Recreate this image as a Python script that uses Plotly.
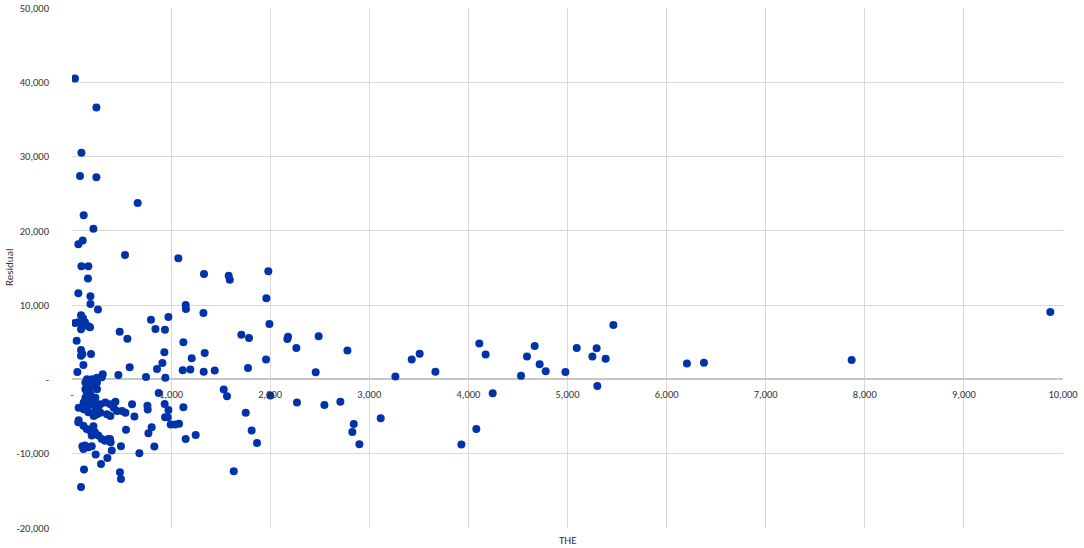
import plotly.graph_objects as go

# THE (x) and Residual (y) values
the_values = [
    30, 246, 95, 81, 246, 663, 118, 216, 108, 64,
    535, 1073, 95, 165, 161, 64, 186, 186, 262, 91,
    111, 30, 64, 98, 131, 165, 182, 91, 47, 91,
    105, 91, 192, 115, 54, 481, 559, 582, 468, 310,
    300, 252, 151, 202,
    797, 973, 842, 938, 932, 912, 858, 747, 942, 1147,
    1150, 1124, 1208, 1117, 1194, 1332, 1581, 1592, 1981, 1961,
    1326, 1992, 1709, 1786, 2180, 2173, 2489, 2264, 1339, 1958,
    1329, 1440, 1776, 2459, 2779, 3263, 3428, 3508, 3667, 4110,
    4174, 4245, 4531, 4591, 4669, 4719, 4780, 4979, 5093, 5251,
    5294, 5301, 5385, 5463, 6205, 6377, 7867, 9872,
    1531, 1564, 2002, 2270, 2547, 2708, 1753, 1813, 1867, 1632,
    2843, 2829, 3115, 2900, 3929, 4080,
    135, 169, 219, 252, 135, 186, 252, 151, 186, 135,
    169, 236, 118, 186, 219, 252, 286, 337, 387, 67,
    118, 151, 236, 269, 286, 438, 421, 454, 505, 539,
    606, 630, 353, 387, 219, 252, 67, 165,
    64, 115, 148, 182, 216, 232, 266, 300, 333, 367,
    383, 199, 131, 165, 199, 390, 105, 115, 545, 494,
    401, 357, 293, 239, 121, 91, 484, 494, 680, 831,
    804, 771, 1147, 1248, 996, 1040, 1080, 939, 966, 761,
    764, 935, 973, 1124, 875,
]

residual_values = [
    40500, 36600, 30500, 27400, 27200, 23760, 22100, 20300, 18700, 18200,
    16760, 16300, 15230, 15230, 13600, 11600, 11200, 10160, 9400, 8640,
    8240, 7600, 7700, 7240, 7700, 7160, 7030, 6750, 5220, 3970,
    3430, 3200, 3430, 1950, 1010, 6430, 5490, 1640, 600, 700,
    300, 240, 30, 30,
    8050, 8410, 6800, 6700, 3660, 2220, 1410, 340, 240, 10030,
    9490, 5010, 2850, 1240, 1320, 14200, 13970, 13430, 14560, 10930,
    8950, 7470, 6030, 5590, 5760, 5450, 5810, 4240, 3570, 2670,
    1050, 1190, 1550, 970, 3880, 380, 2670, 3470, 1050, 4820,
    3340, -1860, 510, 3070, 4510, 2040, 1100, 1010, 4240, 3070,
    4200, -870, 2800, 7340, 2130, 2260, 2620, 9090,
    -1370, -2250, -2180, -3120, -3430, -2990, -4470, -6890, -8550, -12360,
    -5990, -7070, -5220, -8720, -8770, -6660,
    -430, -870, -650, -430, -1320, -1100, -1320, -1780, -1990, -2450,
    -2670, -2450, -3120, -3340, -3260, -3340, -3340, -3120, -3340, -3800,
    -4010, -3800, -4010, -4240, -4470, -2990, -3800, -4240, -4240, -4470,
    -3340, -5000, -4680, -4910, -4910, -4680, -5490, -4410,
    -5760, -6220, -6660, -6890, -6300, -7110, -7560, -8010, -8240, -8010,
    -8010, -7560, -8910, -9130, -8990, -8450, -8990, -9350, -6760, -8990,
    -9580, -10570, -11370, -10120, -12140, -14470, -12490, -13390, -9930, -9040,
    -6430, -7240, -8010, -7470, -6080, -6080, -5950, -5090, -5090, -3530,
    -4060, -3300, -4100, -3740, -1820,
]

x_tick_values = [0, 1000, 2000, 3000, 4000, 5000, 6000, 7000, 8000, 9000, 10000]
x_tick_labels = ["-", "1,000", "2,000", "3,000", "4,000", "5,000", "6,000",
                 "7,000", "8,000", "9,000", "10,000"]
y_tick_values = [-20000, -10000, 0, 10000, 20000, 30000, 40000, 50000]
y_tick_labels = ["-20,000", "-10,000", "-", "10,000", "20,000", "30,000",
                 "40,000", "50,000"]

FONT = "Calibri, Carlito, 'Liberation Sans Narrow', 'DejaVu Sans Condensed', sans-serif"
TXT = "#333333"
GRID = "#D9D9D9"

fig = go.Figure()
fig.add_trace(go.Scatter(
    x=the_values, y=residual_values, mode="markers",
    marker=dict(color="#0033AA", size=8, line=dict(width=0)),
    showlegend=False, hoverinfo="x+y",
))

y_min, y_max = -20000, 50000
fig.update_layout(
    width=1084, height=548,
    margin=dict(l=72, r=21, t=8, b=20, autoexpand=False),
    paper_bgcolor="white", plot_bgcolor="white",
    font=dict(family=FONT, size=10.5, color=TXT),
    xaxis=dict(
        range=[0, 10000], tickvals=x_tick_values, ticktext=x_tick_labels,
        showgrid=True, gridcolor=GRID, gridwidth=1.3,
        zeroline=False, showline=False, ticks="", automargin=False,
        anchor="free", position=(0 - y_min) / (y_max - y_min),
        ticklabelstandoff=7,
    ),
    yaxis=dict(
        range=[y_min, y_max], tickvals=y_tick_values, ticktext=y_tick_labels,
        showgrid=True, gridcolor=GRID, gridwidth=1.3, automargin=False,
        zeroline=True, zerolinecolor="#C6C6C6", zerolinewidth=1.6,
        showline=False, ticks="", ticklabelstandoff=22,
    ),
    annotations=[
        dict(text="THE", x=0.5, y=-12 / 520, xref="paper", yref="paper",
             xanchor="center", yanchor="middle", showarrow=False,
             font=dict(family=FONT, size=11, color=TXT)),
        dict(text="Residual", x=-63 / 991, y=0.5, xref="paper", yref="paper",
             xanchor="center", yanchor="middle", textangle=-90, showarrow=False,
             font=dict(family=FONT, size=11, color=TXT)),
    ],
)

fig.write_html(
    "out.html",
    config={"displayModeBar": False},
    post_script="document.body.style.margin='0';document.body.style.padding='0';",
)
